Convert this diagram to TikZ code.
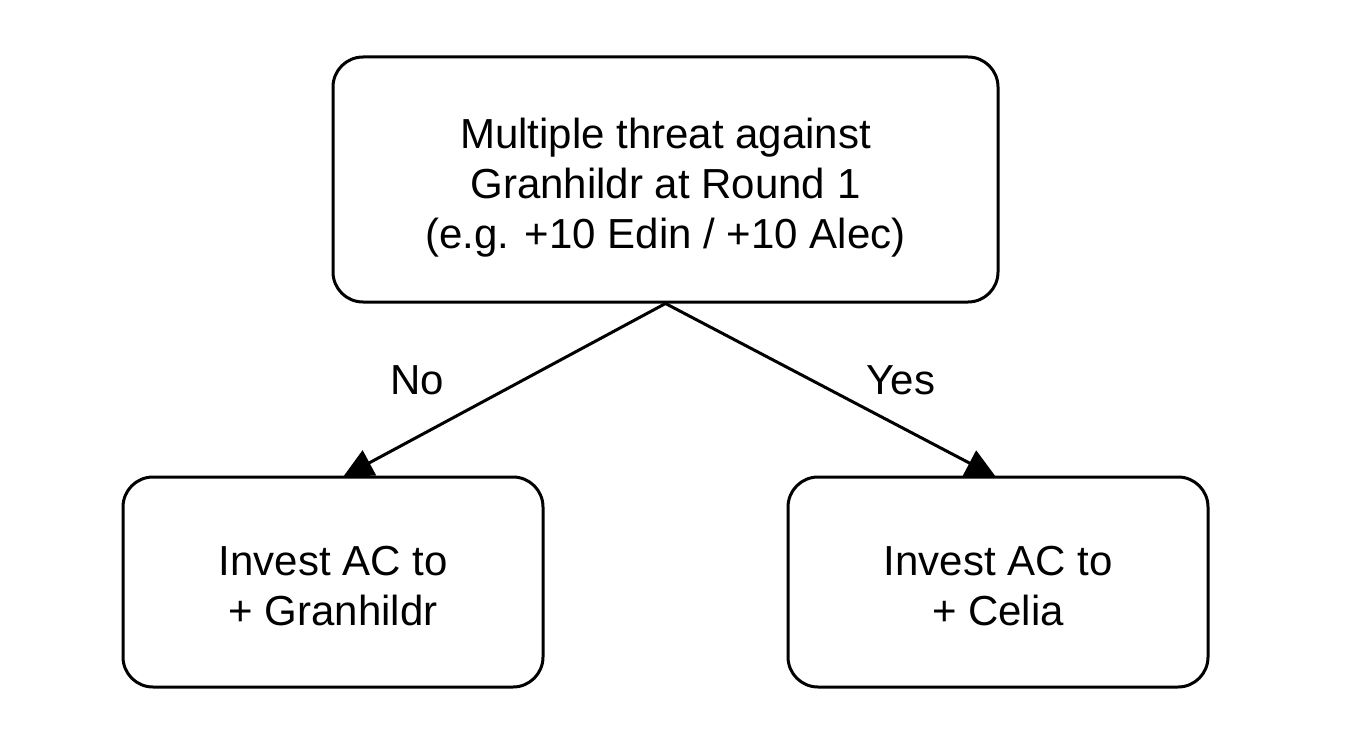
\documentclass[tikz,border=0pt]{standalone}
\usepackage{fontspec}
\setmainfont{Liberation Sans}
\usetikzlibrary{arrows.meta}
\begin{document}
\begin{tikzpicture}[x=1pt,y=-1pt,
  box/.style={draw, line width=3pt, rounded corners=30pt, inner sep=0pt},
  txt/.style={align=center, inner sep=0pt, font=\fontsize{42}{50}\selectfont},
  conn/.style={line width=3pt, -{Triangle[length=30pt,width=28pt]}},
  lbl/.style={font=\fontsize{42}{50}\selectfont}]
\useasboundingbox (0,0) rectangle (1364,754);
\node[box, minimum width=665pt, minimum height=245pt] (top) at (665.5,179.5) {};
\node[txt] (toptext) at ([yshift=-8pt]top.center) {Multiple threat against\\Granhildr at Round 1\\(e.g. +10 Edin / +10 Alec)};
\node[box, minimum width=420pt, minimum height=210pt] (left) at (333,582) {};
\node[txt] (lefttext) at ([yshift=-4pt]left.center) {Invest AC to\\+ Granhildr};
\node[box, minimum width=420pt, minimum height=210pt] (right) at (998,582) {};
\node[txt] (righttext) at ([yshift=-4pt]right.center) {Invest AC to\\+ Celia};
\coordinate (lt) at (343,477);
\coordinate (rt) at (996,477);
\draw[conn] (top.south) -- (lt);
\draw[conn] (top.south) -- (rt);
\node[lbl] (no) at (417,380) {No};
\node[lbl] (yes) at (901,380) {Yes};
\end{tikzpicture}
\end{document}
